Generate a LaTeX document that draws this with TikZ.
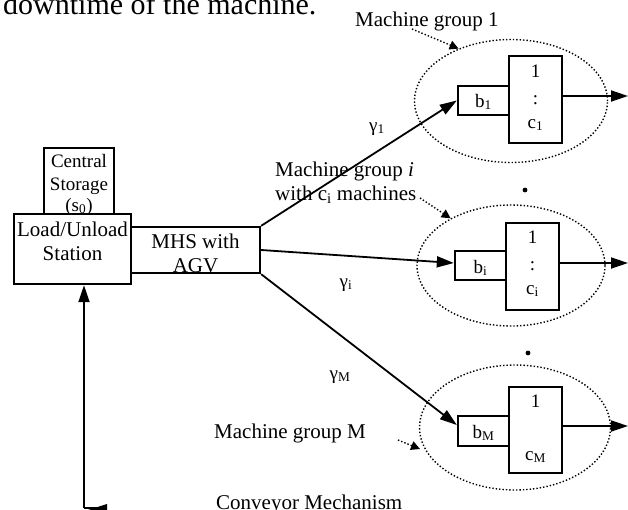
\documentclass[tikz,border=0pt]{standalone}
\usepackage{fontspec}
\setmainfont{Liberation Serif}
\usetikzlibrary{shapes.geometric,arrows.meta}
\begin{document}
\begin{tikzpicture}[x=1pt,y=-1pt,
  box/.style={draw,line width=2.4pt,rectangle,inner sep=0pt},
  grp/.style={draw,dotted,line width=1.4pt,ellipse,inner sep=0pt},
  txt/.style={inner sep=0pt,anchor=base,font=\fontsize{21}{24}\selectfont},
  stxt/.style={inner sep=0pt,anchor=base,font=\fontsize{19}{22}\selectfont},
  flow/.style={line width=1.8pt,-{Triangle[length=17pt,width=11pt]}},
  pointer/.style={dotted,line width=1.4pt,-{Triangle[length=9pt,width=9pt]}}
]
\useasboundingbox (0,0) rectangle (628,509);
\clip (0,0) rectangle (628,509);

% top cut text
\node[inner sep=0pt,anchor=base west,font=\fontsize{30}{34}\selectfont] (top) at (3,14) {downtime of the machine.};

% left boxes
\node[box,minimum width=70pt,minimum height=66pt] (storage) at (79,181) {};
\node[box,minimum width=117pt,minimum height=70pt] (load) at (72.5,249) {};
\node[box,minimum width=129pt,minimum height=46pt] (mhs) at (195.5,250) {};
\node[stxt] (st1) at (79,167) {Central};
\node[stxt] (st2) at (79,190) {Storage};
\node[stxt] (st3) at (79,211) {(s\textsubscript{0})};
\node[txt] (ld1) at (72.5,236) {Load/Unload};
\node[txt] (ld2) at (72.5,260) {Station};
\node[txt] (mh1) at (195.5,248) {MHS with};
\node[txt] (mh2) at (195.5,272) {AGV};

% group ellipses
\node[grp,minimum width=193pt,minimum height=123pt] (e1) at (511,101) {};
\node[grp,minimum width=188pt,minimum height=121pt] (ei) at (511,265.5) {};
\node[grp,minimum width=191pt,minimum height=125pt] (eM) at (515,427.5) {};

% group 1
\node[box,minimum width=51pt,minimum height=29pt] (b1) at (483.5,100.5) {};
\node[box,minimum width=53pt,minimum height=87pt] (c1) at (535.5,99.5) {};
\node[stxt] (b1t) at (483.5,107) {b\textsubscript{1}};
\node[stxt] (c1a) at (535.5,77) {1};
\node[stxt] (c1b) at (535.5,104) {:};
\node[stxt] (c1c) at (535.5,128) {c\textsubscript{1}};

% group i
\node[box,minimum width=51pt,minimum height=29pt] (bi) at (480.5,265.5) {};
\node[box,minimum width=53pt,minimum height=87pt] (ci) at (532.5,266.5) {};
\node[stxt] (bit) at (480.5,273) {b\textsubscript{i}};
\node[stxt] (cia) at (532.5,243) {1};
\node[stxt] (cib) at (532.5,270) {:};
\node[stxt] (cic) at (532.5,294) {c\textsubscript{i}};

% group M
\node[box,minimum width=51pt,minimum height=30pt] (bM) at (483.5,431) {};
\node[box,minimum width=53pt,minimum height=86pt] (cM) at (535.5,430) {};
\node[stxt] (bMt) at (483.5,438) {b\textsubscript{M}};
\node[stxt] (cMa) at (535.5,407) {1};
\node[stxt] (cMc) at (535.5,460) {c\textsubscript{M}};

% dots
\fill (525,190) circle (2.4pt);
\fill (528,353) circle (2.4pt);

% gamma labels
\node[stxt] (g1) at (377,131) {γ\textsubscript{1}};
\node[stxt] (gi) at (346,287) {γ\textsubscript{i}};
\node[stxt] (gM) at (340,379) {γ\textsubscript{M}};

% flows from MHS
\draw[flow] (mhs.north east) -- (b1.west);
\draw[flow] (mhs.east) -- ([yshift=2.5pt]bi.west);
\draw[flow] (mhs.south east) -- ([yshift=6pt]bM.west);

% outputs
\coordinate (o1) at (628,96);
\coordinate (oi) at (628,263);
\coordinate (oM) at (628,426);
\draw[flow] (c1.east |- o1) -- (o1);
\draw[flow] (ci.east |- oi) -- (oi);
\draw[flow] (cM.east |- oM) -- (oM);

% labels with pointers
\node[txt,anchor=base west] (mg1) at (355,26) {Machine group 1};
\coordinate (p1) at (412,29);
\draw[pointer] (p1) -- (e1.135);

\node[txt,anchor=base west] (mgi1) at (275,176) {Machine group \textit{i}};
\node[txt,anchor=base west] (mgi2) at (275,200) {with c\textsubscript{i} machines};
\coordinate (pi) at (420,198);
\draw[pointer] (pi) -- (ei.142);

\node[txt,anchor=base west] (mgM) at (214,438) {Machine group M};
\coordinate (pM) at (398,440);
\coordinate (tM) at (420,449);
\draw[pointer] (pM) -- (tM);

\node[txt,anchor=base west] (conv) at (216,509) {Conveyor Mechanism};

% conveyor return
\coordinate (corner) at (84,508);
\coordinate (cend) at (107,508);
\draw[line width=1.8pt] (cend) -- (corner);
\draw[flow] (corner) -- (corner |- load.south);
\fill (88,510) -- (107,504) -- (107,516) -- cycle;
\end{tikzpicture}
\end{document}
